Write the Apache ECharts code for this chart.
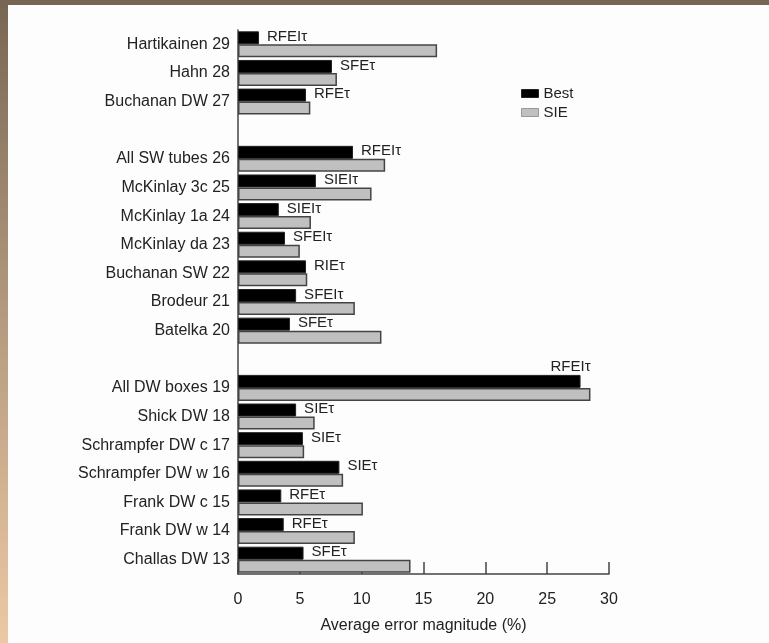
<!DOCTYPE html>
<html>
<head>
<meta charset="utf-8">
<style>
  html, body { margin: 0; padding: 0; background: #fdfdfd; }
  #chart { width: 769px; height: 643px; }
</style>
<script src="https://cdn.jsdelivr.net/npm/echarts@6/dist/echarts.min.js"></script>
</head>
<body>
<div id="chart"></div>
<script>
// Studies from top to bottom; empty strings separate the three groups.
const categories = [
  'Hartikainen 29', 'Hahn 28', 'Buchanan DW 27', '',
  'All SW tubes 26', 'McKinlay 3c 25', 'McKinlay 1a 24', 'McKinlay da 23',
  'Buchanan SW 22', 'Brodeur 21', 'Batelka 20', ' ',
  'All DW boxes 19', 'Shick DW 18', 'Schrampfer DW c 17', 'Schrampfer DW w 16',
  'Frank DW c 15', 'Frank DW w 14', 'Challas DW 13'
];

// Average error magnitude (%) of the best method for each study
const bestValues = [
  1.7, 7.6, 5.5, null,
  9.3, 6.3, 3.3, 3.8, 5.5, 4.7, 4.2, null,
  27.7, 4.7, 5.25, 8.2, 3.5, 3.7, 5.3
];

// Average error magnitude (%) of SIE for each study
const sieValues = [
  16.1, 8.0, 5.85, null,
  11.9, 10.8, 5.9, 5.0, 5.6, 9.45, 11.6, null,
  28.5, 6.2, 5.35, 8.5, 10.1, 9.45, 13.95
];

// Name of the best method, printed next to its bar
const bestMethods = [
  'RFEIτ', 'SFEτ', 'RFEτ', '',
  'RFEIτ', 'SIEIτ', 'SIEIτ', 'SFEIτ', 'RIEτ', 'SFEIτ', 'SFEτ', '',
  'RFEIτ', 'SIEτ', 'SIEτ', 'SIEτ', 'RFEτ', 'RFEτ', 'SFEτ'
];

const xTicks = [0, 5, 10, 15, 20, 25, 30];

const FONT = '"Liberation Sans", Arial, sans-serif';

const bestData = bestValues.map((v, i) => {
  const item = { value: v };
  if (v !== null && v > 20) {
    // long bar: the method name sits above the bar end
    item.label = {
      position: ['100%', 0],
      align: 'right',
      verticalAlign: 'bottom',
      offset: [10, -1]
    };
  }
  return item;
});

const chart = echarts.init(document.getElementById('chart'), null, { renderer: 'canvas' });

chart.setOption({
  backgroundColor: '#fdfdfd',
  animation: false,
  graphic: [
    {
      type: 'rect',
      left: 0, top: 0,
      shape: { width: 769, height: 5 },
      style: { fill: '#776654' },
      z: 100
    },
    {
      type: 'rect',
      left: 0, top: 0,
      shape: { width: 8, height: 643 },
      style: {
        fill: new echarts.graphic.LinearGradient(0, 0, 0, 1, [
          { offset: 0, color: '#776654' },
          { offset: 0.5, color: '#b59b7f' },
          { offset: 1, color: '#ecc9a5' }
        ])
      },
      z: 100
    }
  ],
  legend: {
    orient: 'vertical',
    left: 521,
    top: 86,
    padding: 0,
    itemWidth: 17,
    itemHeight: 8,
    itemGap: 4,
    icon: 'rect',
    textStyle: { fontFamily: FONT, fontSize: 15, color: '#222' },
    data: [
      { name: 'Best', itemStyle: { color: '#000', borderColor: '#222', borderWidth: 1 } },
      { name: 'SIE', itemStyle: { color: '#c0c0c0', borderColor: '#999', borderWidth: 1 } }
    ]
  },
  grid: {
    left: 238,
    top: 30,
    width: 371,
    height: 544,
    containLabel: false
  },
  xAxis: {
    type: 'value',
    min: 0,
    max: 30,
    interval: 5,
    name: 'Average error magnitude (%)',
    nameLocation: 'middle',
    nameGap: 44,
    nameTextStyle: { fontFamily: FONT, fontSize: 16, color: '#222' },
    axisLine: { show: true, lineStyle: { color: '#444', width: 1.5 } },
    axisTick: { show: true, inside: true, length: 12, lineStyle: { color: '#444', width: 1.5 } },
    axisLabel: {
      fontFamily: FONT, fontSize: 16, color: '#222', margin: 18,
      formatter: (v) => (xTicks.includes(v) ? String(v) : '')
    },
    splitLine: { show: false }
  },
  yAxis: {
    type: 'category',
    inverse: true,
    data: categories,
    axisLine: { show: true, lineStyle: { color: '#444', width: 1.5 } },
    axisTick: { show: false },
    axisLabel: { fontFamily: FONT, fontSize: 16, color: '#222', margin: 8, interval: 0 },
    splitLine: { show: false }
  },
  series: [
    {
      name: 'Best',
      type: 'bar',
      barWidth: 13,
      barGap: '0%',
      data: bestData,
      itemStyle: { color: '#000', borderColor: '#222', borderWidth: 1 },
      label: {
        show: true,
        position: 'right',
        distance: 8,
        offset: [0, -1],
        fontFamily: FONT,
        fontSize: 15,
        color: '#222',
        formatter: (p) => bestMethods[p.dataIndex]
      },
      z: 3
    },
    {
      name: 'SIE',
      type: 'bar',
      barWidth: 13,
      barGap: '0%',
      data: sieValues,
      itemStyle: { color: '#c0c0c0', borderColor: '#444', borderWidth: 1.5 },
      z: 2
    }
  ]
});
</script>
</body>
</html>
